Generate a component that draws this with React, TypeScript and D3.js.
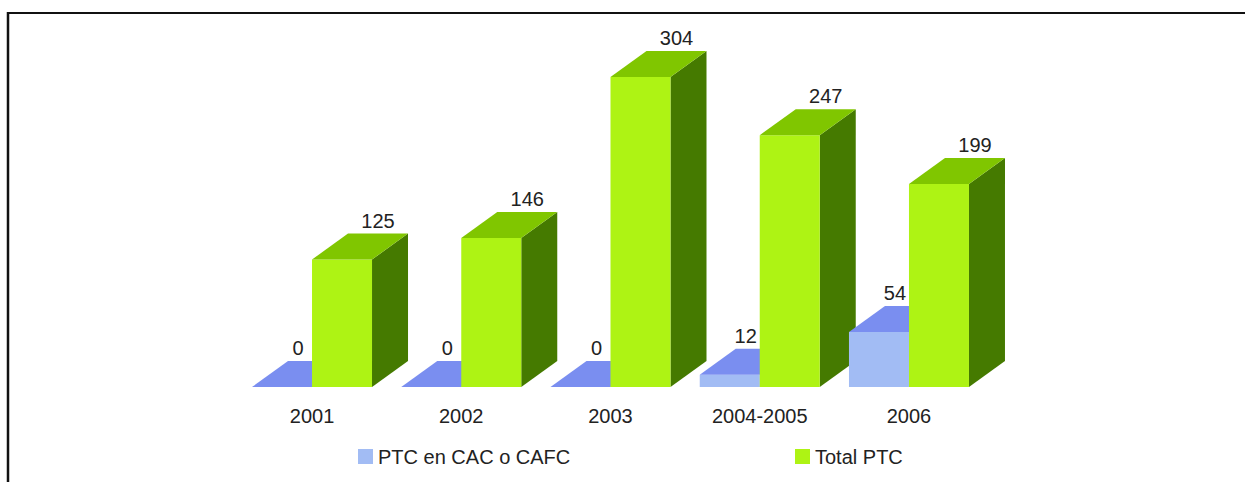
import React from "react";
import * as d3 from "d3";

const categories = ["2001", "2002", "2003", "2004-2005", "2006"];
const ptcCac = [0, 0, 0, 12, 54];
const totalPtc = [125, 146, 304, 247, 199];
const seriesNames = ["PTC en CAC o CAFC", "Total PTC"];

const W = 1245;
const H = 482;
const BASE = 387;
const DX = 36;
const DY = 26;
const BAR_W = 60;
const FONT = "'Liberation Sans', Arial, sans-serif";

const colors = [
  { front: "#a2bcf4", top: "#7a8ef0", side: "#5a70d0" },
  { front: "#aef314", top: "#80c600", side: "#457a00" },
];

export default function App() {
  const x = d3
    .scaleBand<string>()
    .domain(categories)
    .range([237.4, 983.6])
    .padding(0);
  const y = d3.scaleLinear().domain([0, 304]).range([BASE, 77]);
  const bw = x.bandwidth();

  const bars: React.ReactNode[] = [];
  const labels: React.ReactNode[] = [];
  categories.forEach((c, i) => {
    const center = (x(c) as number) + bw / 2;
    [ptcCac[i], totalPtc[i]].forEach((v, s) => {
      const x0 = s === 0 ? center - BAR_W : center;
      const x1 = x0 + BAR_W;
      const yt = y(v);
      const col = colors[s];
      const line = d3.line();
      const front = line([
        [x0, BASE],
        [x1, BASE],
        [x1, yt],
        [x0, yt],
      ]) + "Z";
      const top = line([
        [x0, yt],
        [x1, yt],
        [x1 + DX, yt - DY],
        [x0 + DX, yt - DY],
      ]) + "Z";
      const side = line([
        [x1, BASE],
        [x1 + DX, BASE - DY],
        [x1 + DX, yt - DY],
        [x1, yt],
      ]) + "Z";
      bars.push(
        <g key={`b-${i}-${s}`}>
          <path d={side} fill={col.side} />
          {v > 0 && <path d={front} fill={col.front} />}
          <path d={top} fill={col.top} />
        </g>
      );
      const lx = x0 + DX + BAR_W / 2 - (s === 0 ? 20 : 0);
      const el = (
        <text
          key={`l-${i}-${s}`}
          x={lx}
          y={yt - DY - 6}
          textAnchor="middle"
          fontSize={20}
          fontFamily={FONT}
          fill="#222"
        >
          {v}
        </text>
      );
      if (s === 0) bars.splice(bars.length - 1, 0, el);
      else labels.push(el);
    });
  });

  // reorder: blue label drawn before green bar (so it may be occluded)
  const groups: React.ReactNode[] = [];
  return (
    <svg
      width={W}
      height={H}
      style={{ position: "absolute", left: 0, top: 0, background: "#fff" }}
    >
      <rect x={0} y={0} width={W} height={H} fill="#fff" />
      <line x1={8} y1={13} x2={W} y2={13} stroke="#111" strokeWidth={2} />
      <line x1={8} y1={12} x2={8} y2={H} stroke="#111" strokeWidth={2.5} />
      {bars}
      {labels}
      {groups}
      {categories.map((c) => (
        <text
          key={c}
          x={(x(c) as number) + bw / 2}
          y={423}
          textAnchor="middle"
          fontSize={20}
          fontFamily={FONT}
          fill="#222"
        >
          {c}
        </text>
      ))}
      {seriesNames.map((n, s) => {
        const lx = s === 0 ? 358 : 795;
        return (
          <g key={n}>
            <rect x={lx} y={449} width={15} height={15} fill={colors[s].front} />
            <text x={lx + 20} y={464} fontSize={20} fontFamily={FONT} fill="#222">
              {n}
            </text>
          </g>
        );
      })}
    </svg>
  );
}
